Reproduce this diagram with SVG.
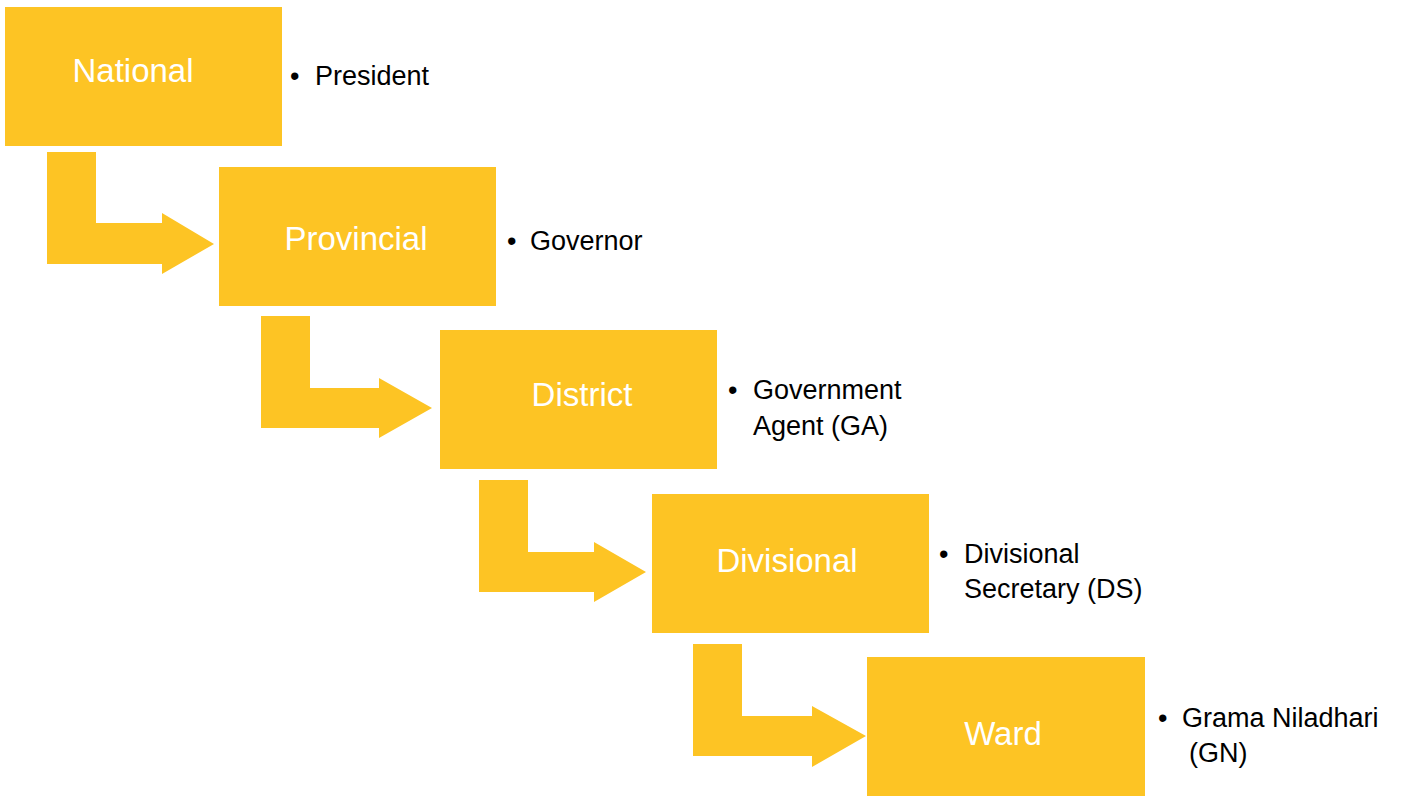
<svg xmlns="http://www.w3.org/2000/svg" width="1405" height="796" viewBox="0 0 1405 796">
  <style>
    .box { fill: #FDC424; }
    .arrow { fill: #FDC424; }
    .label { font-family: "Liberation Sans", Arial, sans-serif; font-size: 33px; fill: #FFFFFF; text-anchor: middle; }
    .note { font-family: "Liberation Sans", Arial, sans-serif; font-size: 27px; fill: #000000; }
  </style>
  <rect width="1405" height="796" fill="#FFFFFF"/>

  <!-- bent arrows linking each level to the next -->
  <g id="connectors">
    <polygon class="arrow" points="47,152 96,152 96,223 162,223 162,213 214,244 162,274 162,264 47,264"/>
    <polygon class="arrow" points="261,316 310,316 310,388 379,388 379,378 432,408 379,438 379,428 261,428"/>
    <polygon class="arrow" points="479,480 528,480 528,552 594,552 594,542 646,572 594,602 594,592 479,592"/>
    <polygon class="arrow" points="693,644 742,644 742,716 812,716 812,706 866,736 812,767 812,756 693,756"/>
  </g>

  <g id="national">
    <rect class="box" x="5" y="7" width="277" height="139"/>
    <text class="label" x="133" y="82">National</text>
    <text class="note" x="290" y="85">•</text>
    <text class="note" x="315" y="85">President</text>
  </g>

  <g id="provincial">
    <rect class="box" x="219" y="167" width="277" height="139"/>
    <text class="label" x="356" y="250">Provincial</text>
    <text class="note" x="507" y="250">•</text>
    <text class="note" x="530" y="250">Governor</text>
  </g>

  <g id="district">
    <rect class="box" x="440" y="330" width="277" height="139"/>
    <text class="label" x="582" y="406">District</text>
    <text class="note" x="728" y="399">•</text>
    <text class="note" x="753" y="399">Government</text>
    <text class="note" x="753" y="435">Agent (GA)</text>
  </g>

  <g id="divisional">
    <rect class="box" x="652" y="494" width="277" height="139"/>
    <text class="label" x="787" y="572">Divisional</text>
    <text class="note" x="939" y="563">•</text>
    <text class="note" x="964" y="563">Divisional</text>
    <text class="note" x="964" y="598">Secretary (DS)</text>
  </g>

  <g id="ward">
    <rect class="box" x="867" y="657" width="278" height="139"/>
    <text class="label" x="1003" y="745">Ward</text>
    <text class="note" x="1158" y="727">•</text>
    <text class="note" x="1182" y="727">Grama Niladhari</text>
    <text class="note" x="1189" y="762">(GN)</text>
  </g>
</svg>
